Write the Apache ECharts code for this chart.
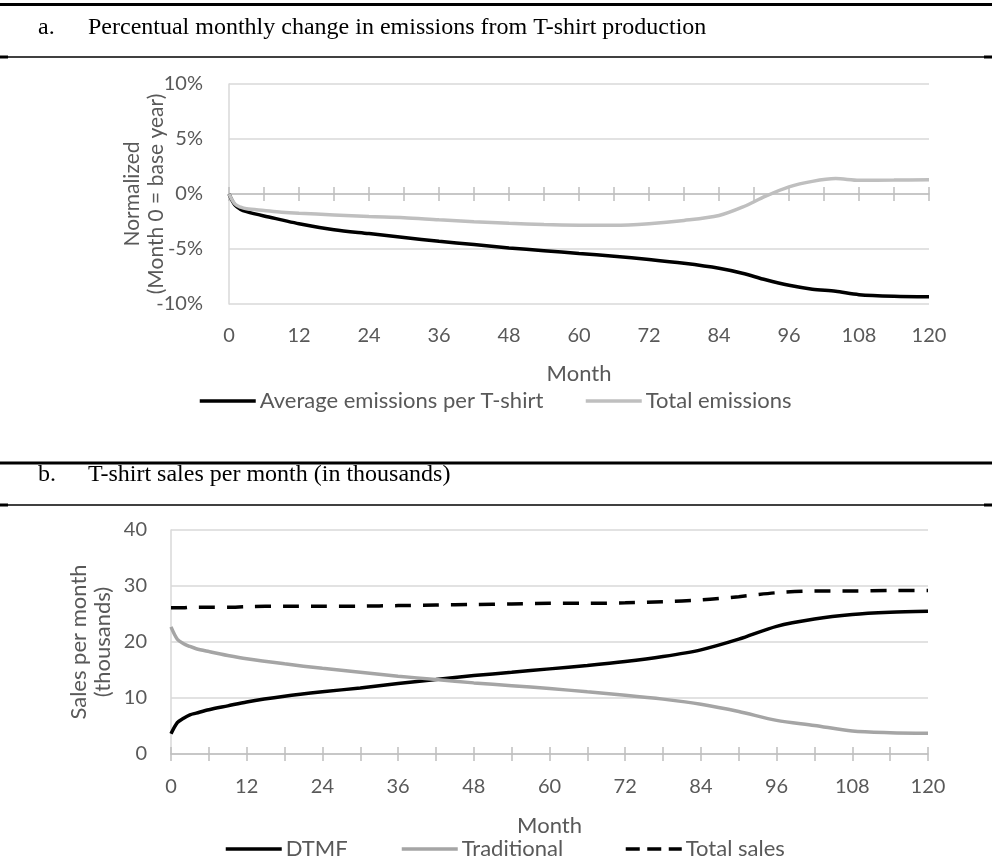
<!DOCTYPE html>
<html><head><meta charset="utf-8">
<script src="https://cdn.jsdelivr.net/npm/echarts@6/dist/echarts.min.js"></script>
<style>html,body{margin:0;padding:0;background:#fff}#c{width:992px;height:861px}</style>
</head><body><div id="c"></div>
<script>
// ---------- Data: panel a (percent change, normalized to month 0) ----------
const monthsA = [0,1,2,3,6,9,12,18,24,30,36,42,48,54,60,66,72,78,84,88,92,96,100,104,108,114,120];
const avgEmissions = [0,-1.0,-1.4,-1.6,-2.0,-2.35,-2.7,-3.25,-3.6,-3.95,-4.3,-4.6,-4.9,-5.15,-5.4,-5.65,-5.95,-6.3,-6.75,-7.2,-7.8,-8.3,-8.65,-8.85,-9.15,-9.3,-9.35];
const totalEmissions = [0,-0.9,-1.2,-1.35,-1.5,-1.65,-1.75,-1.9,-2.05,-2.15,-2.35,-2.52,-2.67,-2.78,-2.83,-2.85,-2.7,-2.4,-1.95,-1.2,-0.2,0.65,1.15,1.4,1.25,1.27,1.3];

// ---------- Data: panel b (sales per month, thousands) ----------
const monthsB = [0,1,2,3,4,6,9,12,18,24,30,36,42,48,54,60,66,72,78,84,90,96,102,108,114,120];
const dtmf = [3.6,5.6,6.4,7.0,7.3,7.9,8.6,9.3,10.3,11.1,11.8,12.6,13.3,14.0,14.6,15.2,15.8,16.5,17.4,18.6,20.5,22.8,24.1,24.9,25.3,25.5];
const traditional = [22.7,20.5,19.7,19.2,18.8,18.3,17.6,17.0,16.1,15.3,14.6,13.9,13.3,12.7,12.2,11.7,11.1,10.5,9.8,8.9,7.6,6.0,5.1,4.1,3.8,3.7];
const totalSales = [26.1,26.1,26.1,26.2,26.2,26.2,26.2,26.3,26.4,26.4,26.4,26.5,26.6,26.7,26.8,26.9,26.9,27.0,27.2,27.5,28.1,28.8,29.1,29.1,29.2,29.2];

// ---------- Tick labels ----------
const xTickLabels = [0,12,24,36,48,60,72,84,96,108,120];
const yTicksA = [-10,-5,0,5,10];
const yTicksB = [0,10,20,30,40];

const FONT = 'Lato, Carlito, Calibri, sans-serif';
const SERIF = '"Liberation Serif", "Times New Roman", serif';
const TXT = '#595959';
const GRID = '#D9D9D9';
const AXIS = '#BFBFBF';

function pairs(xs, ys){ return xs.map((x,i)=>[x, ys[i]]); }

function xLabelAxis(gi, margin, nameGap){
  return {gridIndex:gi, type:'value', min:xTickLabels[0], max:xTickLabels[xTickLabels.length-1], interval:xTickLabels[1]-xTickLabels[0],
    position:'bottom', axisLine:{show:false, onZero:false}, axisTick:{show:false}, splitLine:{show:false},
    axisLabel:{margin:margin, fontSize:20, color:TXT, fontFamily:FONT, formatter:v=>xTickLabels.includes(v)?String(v):''},
    name:'Month', nameLocation:'middle', nameGap:nameGap, nameMoveOverlap:false,
    nameTextStyle:{fontSize:22, color:TXT, fontFamily:FONT}};
}
function xTickAxis(gi, offset, inside, showLine){
  return {gridIndex:gi, type:'value', min:0, max:120, interval:6, position:'bottom', offset:offset,
    axisLine:{show:showLine, onZero:false, lineStyle:{color:AXIS, width:1.5}},
    axisTick:{show:true, inside:inside, length:7, lineStyle:{color:AXIS, width:1.5}},
    axisLabel:{show:false}, splitLine:{show:false}};
}
function legendItem(name, left, top, dash){
  return {data:[name], left:left, top:top, itemWidth:56, itemHeight:14, padding:0,
    itemStyle:{opacity:0}, lineStyle:{width:3.5, type:dash||'solid'},
    textStyle:{fontSize:22, color:TXT, fontFamily:FONT, padding:[0,0,0,-1]}};
}

const option = {
  backgroundColor:'#fff',
  animation:false,
  grid:[
    {left:229, top:84, width:700, height:220},
    {left:171, top:530, width:757, height:224}
  ],
  xAxis:[
    xLabelAxis(0, 22, 59),
    xTickAxis(0, -110, false, true),
    xTickAxis(0, -110, true, false),
    xLabelAxis(1, 23, 61),
    xTickAxis(1, 0, false, true),
    xTickAxis(1, 0, true, false)
  ],
  yAxis:[
    {gridIndex:0, type:'value', min:yTicksA[0], max:yTicksA[yTicksA.length-1], interval:yTicksA[1]-yTicksA[0],
     axisLine:{show:true, lineStyle:{color:GRID, width:1.5}}, axisTick:{show:false},
     splitLine:{lineStyle:{color:GRID, width:1.5}},
     axisLabel:{formatter:'{value}%', margin:26, fontSize:20, color:TXT, fontFamily:FONT},
     name:'Normalized\n(Month 0 = base year)', nameLocation:'middle', nameRotate:90, nameGap:61, nameMoveOverlap:false,
     nameTextStyle:{fontSize:21, lineHeight:24, color:TXT, fontFamily:FONT, align:'center'}},
    {gridIndex:1, type:'value', min:yTicksB[0], max:yTicksB[yTicksB.length-1], interval:yTicksB[1]-yTicksB[0],
     axisLine:{show:true, lineStyle:{color:GRID, width:1.5}}, axisTick:{show:false},
     splitLine:{lineStyle:{color:GRID, width:1.5}},
     axisLabel:{margin:24, fontSize:20, color:TXT, fontFamily:FONT},
     name:'Sales per month\n(thousands)', nameLocation:'middle', nameRotate:90, nameGap:56, nameMoveOverlap:false,
     nameTextStyle:{fontSize:22, lineHeight:24, color:TXT, fontFamily:FONT, align:'center'}}
  ],
  legend:[
    legendItem('Average emissions per T-shirt', 198, 390),
    legendItem('Total emissions', 584, 390),
    legendItem('DTMF', 224, 838),
    legendItem('Traditional', 400, 838),
    legendItem('Total sales', 624, 838, [14,7.5])
  ],
  series:[
    {name:'Average emissions per T-shirt', type:'line', xAxisIndex:0, yAxisIndex:0, data:pairs(monthsA, avgEmissions),
     symbol:'none', smooth:0.3, lineStyle:{color:'#000', width:3.5}, itemStyle:{color:'#000'}, z:3},
    {name:'Total emissions', type:'line', xAxisIndex:0, yAxisIndex:0, data:pairs(monthsA, totalEmissions),
     symbol:'none', smooth:0.3, lineStyle:{color:'#BFBFBF', width:3.5}, itemStyle:{color:'#BFBFBF'}, z:3},
    {name:'DTMF', type:'line', xAxisIndex:3, yAxisIndex:1, data:pairs(monthsB, dtmf),
     symbol:'none', smooth:0.3, lineStyle:{color:'#000', width:3.5}, itemStyle:{color:'#000'}, z:3},
    {name:'Traditional', type:'line', xAxisIndex:3, yAxisIndex:1, data:pairs(monthsB, traditional),
     symbol:'none', smooth:0.3, lineStyle:{color:'#A5A5A5', width:3.5}, itemStyle:{color:'#A5A5A5'}, z:3},
    {name:'Total sales', type:'line', xAxisIndex:3, yAxisIndex:1, data:pairs(monthsB, totalSales),
     symbol:'none', smooth:0.3, lineStyle:{color:'#000', width:3.5, type:[16,12]}, itemStyle:{color:'#000'}, z:3}
  ],
  graphic:[
    {type:'rect', shape:{x:0, y:3, width:992, height:3}, style:{fill:'#000'}},
    {type:'text', x:38, y:28, style:{text:'a.', font:'24px '+SERIF, fill:'#000', verticalAlign:'middle'}},
    {type:'text', x:88, y:28, style:{text:'Percentual monthly change in emissions from T-shirt production', font:'24px '+SERIF, fill:'#000', verticalAlign:'middle'}},
    {type:'rect', shape:{x:0, y:56.2, width:992, height:1.6}, style:{fill:'#000'}},
    {type:'rect', shape:{x:0, y:55.5, width:8, height:3}, style:{fill:'#000'}},
    {type:'rect', shape:{x:984, y:55.5, width:8, height:3}, style:{fill:'#000'}},
    {type:'rect', shape:{x:0, y:461.5, width:992, height:3}, style:{fill:'#000'}},
    {type:'text', x:38, y:475, style:{text:'b.', font:'24px '+SERIF, fill:'#000', verticalAlign:'middle'}},
    {type:'text', x:88, y:475, style:{text:'T-shirt sales per month (in thousands)', font:'24px '+SERIF, fill:'#000', verticalAlign:'middle'}},
    {type:'rect', shape:{x:0, y:504.2, width:992, height:1.6}, style:{fill:'#000'}},
    {type:'rect', shape:{x:0, y:503.5, width:8, height:3}, style:{fill:'#000'}},
    {type:'rect', shape:{x:984, y:503.5, width:8, height:3}, style:{fill:'#000'}}
  ]
};
const chart = echarts.init(document.getElementById('c'), null, {renderer:'canvas'});
chart.setOption(option);
</script></body></html>
